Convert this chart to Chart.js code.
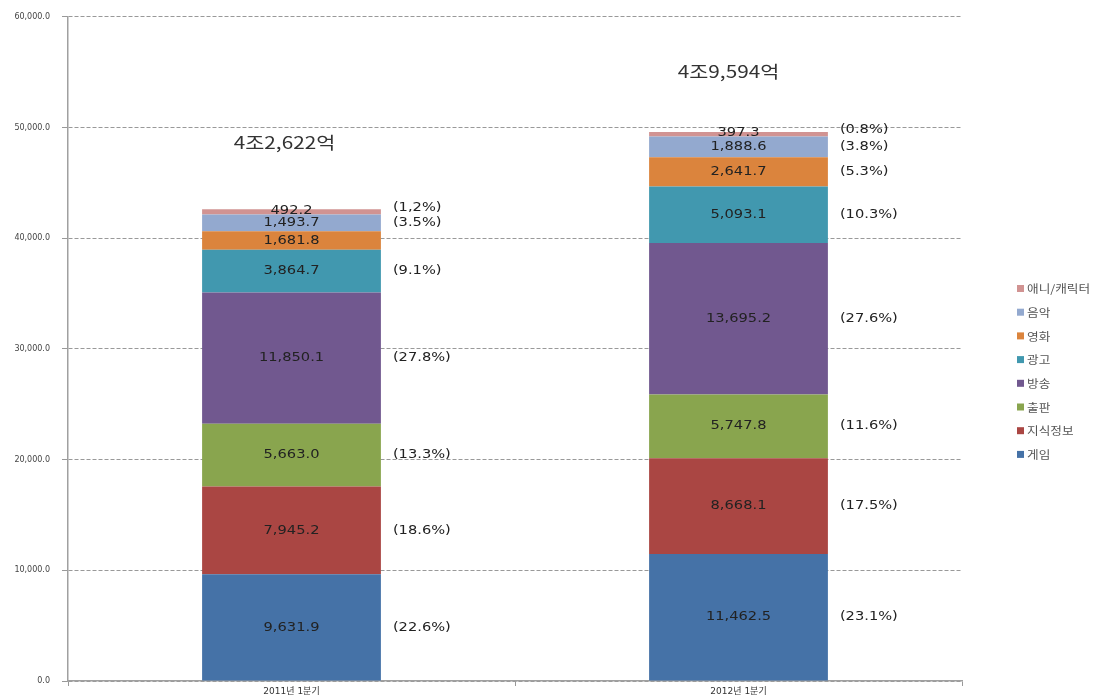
<!DOCTYPE html>
<html>
<head>
<meta charset="utf-8">
<script src="https://cdn.jsdelivr.net/npm/chart.js@4"></script>
<style>
  body { margin: 0; background: #fff; }
  #wrap { width: 1108px; height: 699px; }
</style>
</head>
<body>
<div id="wrap"><canvas id="chart"></canvas></div>
<script>
// 데이터
const categories = ['2011년 1분기', '2012년 1분기'];
const game = [9631.9, 11462.5];
const knowledge = [7945.2, 8668.1];
const publishing = [5663.0, 5747.8];
const broadcast = [11850.1, 13695.2];
const advert = [3864.7, 5093.1];
const movie = [1681.8, 2641.7];
const music = [1493.7, 1888.6];
const anime = [492.2, 397.3];

const gamePct = ['(22.6%)', '(23.1%)'];
const knowledgePct = ['(18.6%)', '(17.5%)'];
const publishingPct = ['(13.3%)', '(11.6%)'];
const broadcastPct = ['(27.8%)', '(27.6%)'];
const advertPct = ['(9.1%)', '(10.3%)'];
const moviePct = [null, '(5.3%)'];
const musicPct = ['(3.5%)', '(3.8%)'];
const animePct = ['(1,2%)', '(0.8%)'];

const totals = ['4조2,622억', '4조9,594억'];
const yTicks = [0, 10000, 20000, 30000, 40000, 50000, 60000];

const STRETCH = 1.22;
const FONT = "'DejaVu Sans', 'Noto Sans CJK KR', sans-serif";

function stretchText(ctx, text, x, y, sx) {
    ctx.save();
    ctx.translate(x, y);
    ctx.scale(sx, 1);
    ctx.fillText(text, 0, 0);
    ctx.restore();
}

function fmt(v) {
    return v.toLocaleString('en-US', { minimumFractionDigits: 1, maximumFractionDigits: 1 });
}

// 라벨, 합계, 범례 그리기
const labelPlugin = {
    id: 'labels',
    afterDatasetsDraw(chart) {
        const ctx = chart.ctx;
        const ds = chart.data.datasets;
        ctx.save();
        ctx.textBaseline = 'middle';
        ds.forEach((d, i) => {
            const meta = chart.getDatasetMeta(i);
            meta.data.forEach((bar, j) => {
                const cy = (bar.y + bar.base) / 2;
                ctx.fillStyle = '#222';
                ctx.font = '12px ' + FONT;
                ctx.textAlign = 'center';
                const yOff = (i === ds.length - 1) ? -1 : 0;
                stretchText(ctx, fmt(d.data[j]), bar.x, cy + yOff, STRETCH);
                const p = d.pct[j];
                if (p) {
                    ctx.textAlign = 'left';
                    const pOff = (i === ds.length - 1) ? -4 : 0;
                    stretchText(ctx, p, bar.x + bar.width / 2 + 12, cy + pOff, STRETCH);
                }
            });
        });

        // 합계
        const totalDx = [-7, -10];
        const totalDy = [-67, -60];
        const lastMeta = chart.getDatasetMeta(ds.length - 1);
        ctx.fillStyle = '#333';
        ctx.font = '17px "Noto Sans CJK KR", sans-serif';
        ctx.textAlign = 'center';
        lastMeta.data.forEach((bar, j) => {
            stretchText(ctx, totals[j], bar.x + totalDx[j], bar.y + totalDy[j], 1.22);
        });

        // 범례
        ctx.font = '11px "Noto Sans CJK KR", sans-serif';
        ctx.textAlign = 'left';
        const lx = 1017, ly = 289, step = 23.7;
        for (let k = ds.length - 1, n = 0; k >= 0; k--, n++) {
            const y = ly + n * step;
            ctx.fillStyle = ds[k].backgroundColor;
            ctx.fillRect(lx, y - 4, 7, 7);
            ctx.fillStyle = '#555';
            stretchText(ctx, ds[k].label, lx + 10, y, 1.15);
        }
        ctx.restore();
    }
};

const ctx = document.getElementById('chart').getContext('2d');
new Chart(ctx, {
    type: 'bar',
    data: {
        labels: categories,
        datasets: [
            { label: '게임', data: game, pct: gamePct, backgroundColor: '#4572A7' },
            { label: '지식정보', data: knowledge, pct: knowledgePct, backgroundColor: '#AA4643' },
            { label: '출판', data: publishing, pct: publishingPct, backgroundColor: '#89A54E' },
            { label: '방송', data: broadcast, pct: broadcastPct, backgroundColor: '#71588F' },
            { label: '광고', data: advert, pct: advertPct, backgroundColor: '#4198AF' },
            { label: '영화', data: movie, pct: moviePct, backgroundColor: '#DB843D' },
            { label: '음악', data: music, pct: musicPct, backgroundColor: '#93A9CF' },
            { label: '애니/캐릭터', data: anime, pct: animePct, backgroundColor: '#D19392' }
        ]
    },
    options: {
        responsive: true,
        maintainAspectRatio: false,
        animation: false,
        datasets: { bar: { categoryPercentage: 0.8, barPercentage: 0.5, borderWidth: 0 } },
        layout: { padding: { left: 0, right: 146, top: 15, bottom: 0 } },
        plugins: {
            legend: { display: false },
            tooltip: { enabled: false }
        },
        scales: {
            x: {
                stacked: true,
                afterFit: s => { s.height = 18; },
                grid: { offset: true, drawOnChartArea: false, drawTicks: true, tickLength: 5, tickColor: '#999' },
                border: { color: '#a0a0a0', width: 1.5 },
                ticks: { padding: 0, color: '#333', font: { size: 9, family: FONT } }
            },
            y: {
                stacked: true,
                min: 0,
                max: 60000,
                afterFit: s => { s.width = 68; },
                afterBuildTicks: s => { s.ticks = yTicks.map(v => ({ value: v })); },
                grid: { color: '#999', lineWidth: 1, tickLength: 6, tickColor: '#999' },
                border: { color: '#a0a0a0', width: 1.5, dash: [4, 2] },
                ticks: {
                    padding: 12,
                    color: '#444',
                    font: { size: 8, family: FONT },
                    callback: v => fmt(v)
                }
            }
        }
    },
    plugins: [labelPlugin]
});
</script>
</body>
</html>
